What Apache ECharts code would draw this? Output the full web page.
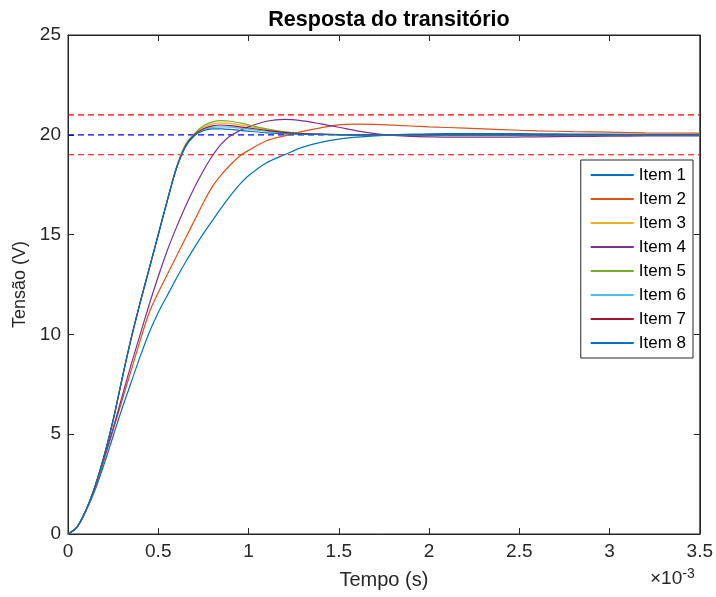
<!DOCTYPE html>
<html>
<head>
<meta charset="utf-8">
<script src="https://cdn.jsdelivr.net/npm/echarts@6/dist/echarts.min.js"></script>
<style>
  html, body { margin: 0; padding: 0; background: #fff; }
  #chart { width: 716px; height: 597px; }
</style>
</head>
<body>
<div id="chart"></div>
<script>
// tempo em ms (eixo mostra x10^-3 s)
var tempo = [0, 0.05, 0.1, 0.15, 0.2, 0.25, 0.3, 0.35, 0.4, 0.45, 0.5, 0.55, 0.6, 0.65, 0.7, 0.75, 0.8, 0.85, 0.9, 0.95, 1.0,
             1.1, 1.2, 1.3, 1.4, 1.5, 1.6, 1.7, 1.8, 1.9, 2.0, 2.2, 2.4, 2.6, 2.8, 3.0, 3.2, 3.5];

var item1 = [0, 0.33, 1.15, 2.2, 3.5, 4.9, 6.3, 7.6, 8.9, 10.1, 11.1, 11.95, 12.8, 13.6, 14.35, 15.05, 15.7, 16.35, 16.95, 17.5, 17.95,
             18.6, 19.0, 19.38, 19.62, 19.78, 19.88, 19.95, 20.0, 20.03, 20.05, 20.06, 20.06, 20.05, 20.04, 20.03, 20.02, 20.02];
var item2 = [0, 0.35, 1.2, 2.3, 3.7, 5.2, 6.7, 8.2, 9.7, 11.1, 12.1, 13.0, 13.9, 14.8, 15.7, 16.6, 17.4, 18.0, 18.5, 18.93, 19.22,
             19.7, 19.95, 20.17, 20.35, 20.5, 20.53, 20.52, 20.48, 20.44, 20.4, 20.33, 20.26, 20.2, 20.16, 20.13, 20.1, 20.08];
var item3 = [0, 0.35, 1.2, 2.4, 3.9, 5.7, 7.8, 9.8, 11.6, 13.3, 15.0, 16.7, 18.35, 19.45, 20.02, 20.38, 20.55, 20.6, 20.57, 20.5, 20.42,
             20.26, 20.13, 20.06, 20.02, 20.0, 20.0, 20.0, 20.0, 20.0, 20.0, 20.0, 20.0, 20.0, 20.0, 20.0, 20.0, 20.0];
var item4 = [0, 0.35, 1.2, 2.35, 3.8, 5.3, 6.9, 8.5, 10.0, 11.5, 12.9, 14.2, 15.35, 16.4, 17.35, 18.2, 18.95, 19.55, 19.95, 20.2, 20.4,
             20.68, 20.77, 20.7, 20.55, 20.38, 20.2, 20.06, 19.97, 19.92, 19.9, 19.88, 19.88, 19.9, 19.92, 19.93, 19.94, 19.95];
var item5 = [0, 0.35, 1.2, 2.4, 3.9, 5.7, 7.8, 9.8, 11.6, 13.3, 15.0, 16.7, 18.35, 19.5, 20.05, 20.45, 20.65, 20.71, 20.68, 20.6, 20.5,
             20.3, 20.15, 20.07, 20.02, 20.0, 19.99, 19.99, 20.0, 20.0, 20.0, 20.0, 20.0, 20.0, 20.0, 20.0, 20.0, 20.0];
var item6 = [0, 0.35, 1.2, 2.4, 3.9, 5.7, 7.8, 9.8, 11.6, 13.3, 15.0, 16.7, 18.3, 19.4, 19.98, 20.25, 20.37, 20.4, 20.38, 20.33, 20.28,
             20.18, 20.1, 20.05, 20.02, 20.01, 20.0, 20.0, 20.0, 20.0, 20.0, 20.0, 20.0, 20.0, 20.0, 20.0, 20.0, 20.0];
var item7 = [0, 0.35, 1.2, 2.4, 3.9, 5.7, 7.8, 9.8, 11.6, 13.3, 15.0, 16.7, 18.3, 19.42, 20.0, 20.3, 20.45, 20.49, 20.46, 20.4, 20.34,
             20.22, 20.12, 20.06, 20.03, 20.01, 20.0, 20.0, 20.0, 20.0, 20.0, 20.0, 20.0, 20.0, 20.0, 20.0, 20.0, 20.0];
var item8 = [0, 0.35, 1.2, 2.4, 3.9, 5.7, 7.8, 9.8, 11.6, 13.3, 15.0, 16.7, 18.3, 19.38, 19.95, 20.2, 20.3, 20.3, 20.27, 20.22, 20.18,
             20.1, 20.05, 20.03, 20.02, 20.01, 20.0, 20.0, 20.0, 20.0, 20.0, 20.0, 20.0, 20.0, 20.0, 20.0, 20.0, 20.0];

var nomes = ['Item 1', 'Item 2', 'Item 3', 'Item 4', 'Item 5', 'Item 6', 'Item 7', 'Item 8'];
var valores = [item1, item2, item3, item4, item5, item6, item7, item8];
var cores = ['#0072BD', '#D95319', '#EDB120', '#7E2F8E', '#77AC30', '#4DBEEE', '#A2142F', '#0072BD'];

// linhas tracejadas: faixa de tolerancia e referencia
var linhasRef = [19, 21, 20];
var coresRef = ['#FF0000', '#FF0000', '#0000FF'];

var xTicks = { min: 0, max: 3.5, interval: 0.5 };
var yTicks = { min: 0, max: 25, interval: 5 };

var fonte = '"Liberation Sans", Arial, Helvetica, sans-serif';
var eixoCor = '#262626';

function juntar(v) {
    var d = [];
    for (var i = 0; i < tempo.length; i++) d.push([tempo[i], v[i]]);
    return d;
}

var chart = echarts.init(document.getElementById('chart'));

var series = [];
for (var r = 0; r < linhasRef.length; r++) {
    series.push({
        name: 'ref' + r,
        type: 'line',
        data: [[xTicks.min, linhasRef[r]], [xTicks.max, linhasRef[r]]],
        silent: true,
        symbol: 'none',
        showSymbol: false,
        color: coresRef[r],
        lineStyle: { color: coresRef[r], type: [6, 4], width: 1.2 },
        z: 2
    });
}

for (var k = 0; k < nomes.length; k++) {
    series.push({
        name: nomes[k],
        type: 'line',
        data: juntar(valores[k]),
        smooth: 0.3,
        symbol: 'none',
        showSymbol: false,
        color: cores[k],
        lineStyle: { width: 1.2, color: cores[k] },
        z: 3 + k
    });
}

function eixoExtra(pos, t) {
    return {
        type: 'value', position: pos,
        min: t.min, max: t.max, interval: t.interval,
        axisLine: { show: true, onZero: false, lineStyle: { color: eixoCor, width: 1 } },
        axisTick: { show: true, inside: true, length: 6, lineStyle: { color: eixoCor } },
        axisLabel: { show: false },
        splitLine: { show: false }
    };
}

var option = {
    animation: false,
    backgroundColor: '#fff',
    title: {
        text: 'Resposta do transitório',
        left: 384,
        top: 4,
        textAlign: 'center',
        textStyle: { fontFamily: fonte, fontSize: 21.5, fontWeight: 'bold', color: '#000' }
    },
    legend: {
        data: nomes,
        orient: 'vertical',
        right: 23,
        top: 160,
        padding: [3, 7, 3, 10],
        itemGap: 0,
        itemWidth: 43,
        itemHeight: 2,
        icon: 'rect',
        backgroundColor: '#fff',
        borderColor: eixoCor,
        borderWidth: 1,
        borderRadius: 0,
        textStyle: { fontFamily: fonte, fontSize: 17, lineHeight: 24, color: '#000' }
    },
    grid: { left: 68, right: 16, top: 35, bottom: 63, show: true, borderColor: eixoCor, borderWidth: 1, backgroundColor: 'transparent' },
    xAxis: [{
        type: 'value',
        min: xTicks.min, max: xTicks.max, interval: xTicks.interval,
        name: 'Tempo (s)',
        nameLocation: 'middle',
        nameGap: 36,
        nameTextStyle: { fontFamily: fonte, fontSize: 20, color: '#262626' },
        axisLine: { onZero: false, lineStyle: { color: eixoCor, width: 1 } },
        axisTick: { inside: true, length: 6, lineStyle: { color: eixoCor } },
        axisLabel: { fontFamily: fonte, fontSize: 19, color: '#262626', margin: 8 },
        splitLine: { show: false }
    }, eixoExtra('top', xTicks)],
    yAxis: [{
        type: 'value',
        min: yTicks.min, max: yTicks.max, interval: yTicks.interval,
        name: 'Tensão (V)',
        nameLocation: 'middle',
        nameGap: 33,
        nameTextStyle: { fontFamily: fonte, fontSize: 18, color: '#262626' },
        axisLine: { show: true, onZero: false, lineStyle: { color: eixoCor, width: 1 } },
        axisTick: { show: true, inside: true, length: 6, lineStyle: { color: eixoCor } },
        axisLabel: { fontFamily: fonte, fontSize: 19, color: '#262626', margin: 7 },
        splitLine: { show: false }
    }, eixoExtra('right', yTicks)],
    graphic: [{
        type: 'text',
        left: 650,
        top: 567,
        style: {
            text: '×10{s|-3}',
            fontFamily: fonte,
            fontSize: 19,
            fill: '#262626',
            rich: { s: { fontSize: 14, verticalAlign: 'top', padding: [0, 0, 10, 0], fill: '#262626', fontFamily: fonte } }
        }
    }],
    series: series
};

chart.setOption(option);
</script>
</body>
</html>
